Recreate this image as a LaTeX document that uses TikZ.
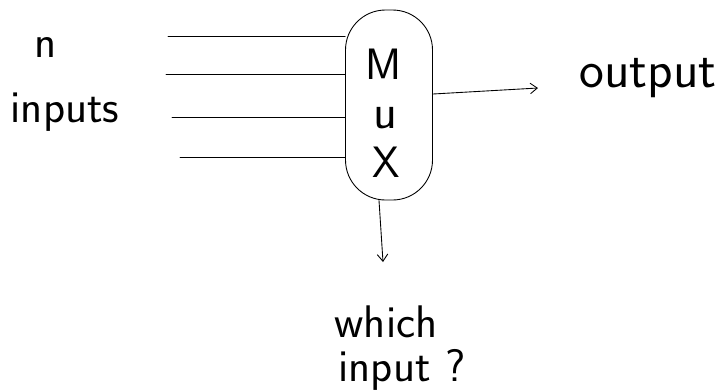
\documentclass[tikz,border=0pt]{standalone}
\usepackage{tikz}
\usetikzlibrary{positioning, arrows.meta}

\tikzset{
  wire/.style={line width=0.5pt, line cap=round},
  tip/.style={-{Straight Barb[length=4pt,width=6pt]}},
  lbl/.style={font=\sffamily\fontsize{26}{30}\selectfont, inner sep=0pt},
  muxletter/.style={font=\sffamily\fontsize{25}{30}\selectfont, inner sep=0pt}
}

\begin{document}
\begin{tikzpicture}[x=0.02cm, y=-0.02cm]

\useasboundingbox (0,0) rectangle (726,390);

% the multiplexer body
\node[draw, line width=0.5pt, rectangle, rounded corners=0.8cm, minimum width=87*0.02cm,
  minimum height=190*0.02cm] (mux) at (389,105) {};

\node[muxletter] (m) at (384,64) {M};
\node[muxletter, font=\sffamily\fontsize{28}{32}\selectfont] (u) at (385,118) {u};
\node[muxletter] (x) at (386,162) {X};

% input lines
\coordinate (in1) at (168,36);
\coordinate (in2) at (166,74);
\coordinate (in3) at (172,117);
\coordinate (in4) at (180,157);

\draw[wire] (in1) -- (in1 -| mux.west);
\draw[wire] (in2) -- (in2 -| mux.west);
\draw[wire] (in3) -- (in3 -| mux.west);
\draw[wire] (in4) -- (in4 -| mux.west);

\node[lbl] (n) at (46,47) {n};
\node[lbl] (inputs) at (65,112) {inputs};

% output
\coordinate (outend) at (538,88);
\draw[wire,tip] (mux.east |- 0,94) -- (outend);
\node[lbl, font=\sffamily\fontsize{30}{34}\selectfont] (output) at (648,78) {output};

% select line
\coordinate (selend) at (383,262);
\draw[wire,tip] (mux.south -| 379,0) -- (selend);

\node[lbl] (which) at (386,322) {which};
\node[lbl] (input) at (402,370) {input ?};

\end{tikzpicture}
\end{document}
